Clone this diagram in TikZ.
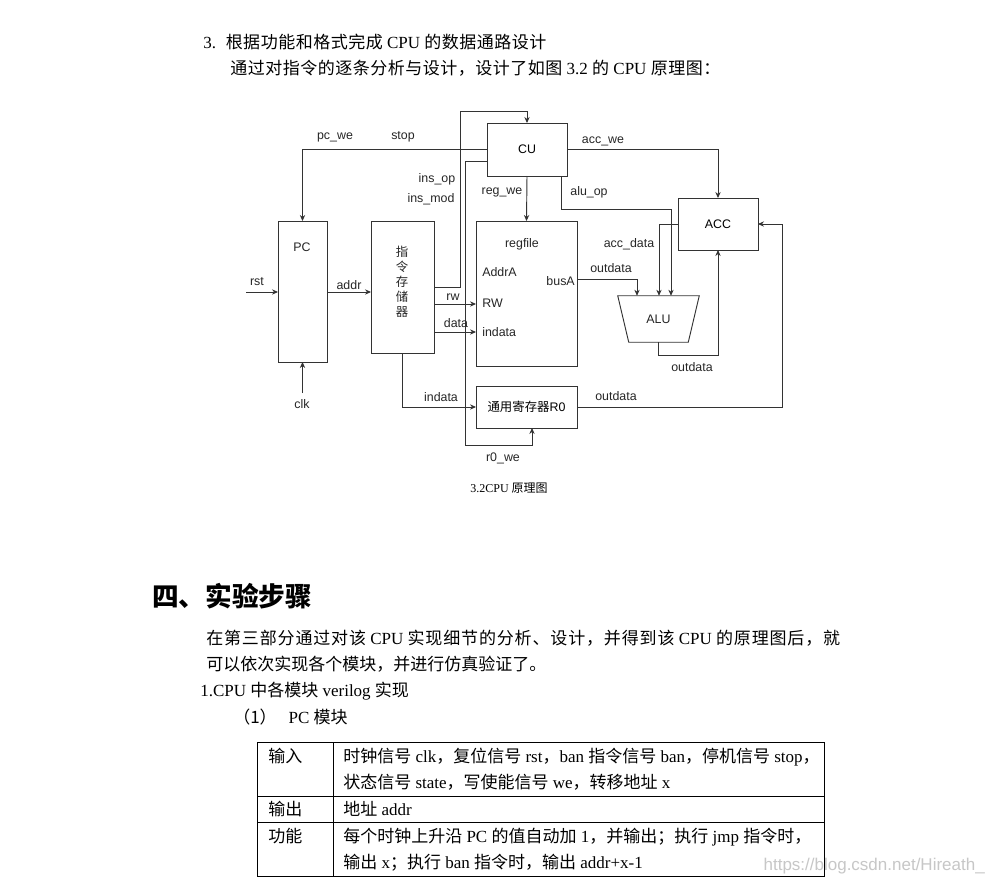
\documentclass[tikz,border=0pt]{standalone}
\usepackage{fontspec}
\setmainfont{Liberation Serif}
\setsansfont{Liberation Sans}
\newfontfamily\cjk{Noto Sans CJK SC}
\newfontfamily\cjkwide{Noto Sans CJK SC}[LetterSpace=5]
\newfontfamily\cjkwider{Noto Sans CJK SC}[LetterSpace=3]
\newcommand\zh[1]{{\cjk #1}}
\newcommand\zw[1]{{\cjkwide #1}}
\newcommand\zv[1]{{\cjkwider #1}}
\newcommand\bodysize{\fontsize{12.75pt}{16pt}\selectfont}
\newcommand\lblsize{\sffamily\fontsize{9.3pt}{11pt}\selectfont}
\usetikzlibrary{arrows.meta}

\begin{document}
\begin{tikzpicture}[x=0.75pt, y=-0.75pt,
    >={Stealth[length=4.5pt,width=4pt]},
    blk/.style={draw=black!80, line width=0.7pt, inner sep=0pt, outer sep=0pt, font=\lblsize},
    sig/.style={->, draw=black!80, line width=0.7pt},
    lbl/.style={font=\lblsize, text=black!85, inner sep=0pt},
    txt/.style={font=\bodysize, anchor=base west, inner sep=0pt}
]
    \fill[white] (0,0) rectangle (993,889);
    \useasboundingbox (0,0) rectangle (993,889);

    \node[txt] (sec3) at (203,48.5) {3.\hspace{7.3pt}\zv{根据功能和格式完成} CPU \zv{的数据通路设计}};
    \node[txt] (intro) at (230,74.5) {\zv{通过对指令的逐条分析与设计，设计了如图} 3.2 \zv{的} CPU \zv{原理图：}};

    % blocks
    \node[blk, minimum width=36.75pt, minimum height=105.75pt] (pc) at (302.5,291.5) {};
    \node[blk, minimum width=47.25pt, minimum height=99pt] (imem) at (402.5,287) {};
    \node[blk, minimum width=60pt, minimum height=39.75pt] (cu) at (527,149.5) {CU};
    \node[blk, minimum width=75.75pt, minimum height=108.75pt] (regfile) at (526.5,293.5) {};
    \node[blk, minimum width=75.75pt, minimum height=31.5pt] (r0) at (526.5,407) {\zh{通用寄存器}R0};
    \node[blk, minimum width=60pt, minimum height=39pt] (acc) at (718,224) {ACC};
    \node[lbl, minimum width=60.75pt, minimum height=34.5pt] (alu) at (658.5,319) {ALU};
    \draw[draw=black!80, line width=0.7pt] (alu.north west) -- (alu.north east) -- ([xshift=-8.25pt]alu.south east) -- ([xshift=8.25pt]alu.south west) -- cycle;

    \node[lbl] (pcname) at (302,247) {PC};
    \node[lbl, align=center, font=\fontsize{9.3pt}{11.25pt}\selectfont\cjk] (imemname) at (402,282) {指\\令\\存\\储\\器};
    \node[lbl] (rfname) at (522,244) {regfile};
    \node[lbl, anchor=west] (addra) at (482,272) {AddrA};
    \node[lbl, anchor=west] (rwport) at (482,303) {RW};
    \node[lbl, anchor=west] (inport) at (482,332) {indata};
    \node[lbl, anchor=east] (busa) at (575,281) {busA};

    % wires
    \coordinate (rstin) at (246,292);
    \coordinate (clkin) at (302.5,393);
    \draw[sig] (rstin) -- (rstin -| pc.west);
    \draw[sig] (clkin) -- (pc.south);
    \draw[sig] (pc.east |- 0,292) -- (imem.west |- 0,292);
    \draw[sig] (cu.west) -| (pc.north);
    \draw[sig] (imem.east) -| (460,111) -| (cu.north);
    \draw[sig] (cu.west |- 0,161) -| (465,445) -| (r0.south -| 532,0);
    \draw[sig] (imem.east |- 0,304) -- (regfile.west |- 0,304);
    \draw[sig] (imem.east |- 0,332) -- (regfile.west |- 0,332);
    \draw[sig] (imem.south) |- (r0.west);
    \draw[sig] (cu.south) -- (regfile.north);
    \draw[sig] (cu.south -| 561,0) |- (671,209) -- (alu.north -| 671,0);
    \draw[sig] (cu.east) -| (acc.north);
    \draw[sig] (acc.west) -| (alu.north -| 659,0);
    \draw[sig] (regfile.east |- 0,279) -| (alu.north -| 637,0);
    \draw[sig] (alu.south) |- (718,355) -- (acc.south);
    \draw[sig] (r0.east) -| (782,224) -- (acc.east);

    \node[lbl] (rstlbl) at (257,282) {rst};
    \node[lbl] (addrlbl) at (349,285) {addr};
    \node[lbl] (clklbl) at (302,404) {clk};
    \node[lbl] (pcwelbl) at (335,137) {pc\_we};
    \node[lbl] (stoplbl) at (403,137) {stop};
    \node[lbl] (insoplbl) at (437,179) {ins\_op};
    \node[lbl] (insmodlbl) at (431,199) {ins\_mod};
    \node[lbl] (rwlbl) at (453,297) {rw};
    \node[lbl] (datalbl) at (456,323) {data};
    \node[lbl] (indatalbl) at (441,397) {indata};
    \node[lbl] (r0welbl) at (503,458) {r0\_we};
    \node[lbl] (regwelbl) at (502,192) {reg\_we};
    \node[lbl] (aluoplbl) at (589,192) {alu\_op};
    \node[lbl] (accwelbl) at (603,141) {acc\_we};
    \node[lbl] (accdatalbl) at (629,244) {acc\_data};
    \node[lbl] (busalbl) at (611,268) {outdata};
    \node[lbl] (alulbl) at (692,367) {outdata};
    \node[lbl] (r0lbl) at (616,396) {outdata};

    \node[font=\fontsize{9pt}{11pt}\selectfont, inner sep=0pt] (cap) at (509,488) {3.2CPU \zh{原理图}};

    \node[txt, font=\fontsize{20pt}{24pt}\selectfont\cjk\bfseries] (sec4) at (152,606) {四、实验步骤};
    \node[txt] (para1) at (206,644.5) {\zw{在第三部分通过对该} CPU \zw{实现细节的分析、设计，并得到该} CPU \zw{的原理图后，就}};
    \node[txt] (para2) at (206,670.5) {\zh{可以依次实现各个模块，并进行仿真验证了。}};
    \node[txt] (step1) at (200,696.5) {1.CPU \zh{中各模块} verilog \zh{实现}};
    \node[txt] (step11) at (233,723.5) {\zh{（1）}\hspace{9pt}PC \zh{模块}};

    % table
    \draw[line width=0.75pt] (257,742) rectangle (824,876);
    \draw[line width=0.75pt] (333,742) -- (333,876);
    \draw[line width=0.75pt] (257,796) -- (824,796);
    \draw[line width=0.75pt] (257,822) -- (824,822);
    \node[txt] (inkey) at (268,762.5) {\zh{输入}};
    \node[txt] (inval1) at (343,762.5) {\zh{时钟信号} clk\zh{，复位信号} rst\zh{，}ban \zh{指令信号} ban\zh{，停机信号} stop\zh{，}};
    \node[txt] (inval2) at (343,788.5) {\zh{状态信号} state\zh{，写使能信号} we\zh{，转移地址} x};
    \node[txt] (outkey) at (268,815.5) {\zh{输出}};
    \node[txt] (outval) at (343,815.5) {\zh{地址} addr};
    \node[txt] (fnkey) at (268,842.5) {\zh{功能}};
    \node[txt] (fnval1) at (343,842.5) {\zh{每个时钟上升沿} PC \zh{的值自动加} 1\zh{，并输出；执行} jmp \zh{指令时，}};
    \node[txt] (fnval2) at (343,868.5) {\zh{输出} x\zh{；执行} ban \zh{指令时，输出} addr+x-1};

    \node[font=\sffamily\fontsize{12.75pt}{15pt}\selectfont, text=black!22, anchor=east, inner sep=0pt] (mark) at (985,866) {https://blog.csdn.net/Hireath\_};
\end{tikzpicture}
\end{document}
